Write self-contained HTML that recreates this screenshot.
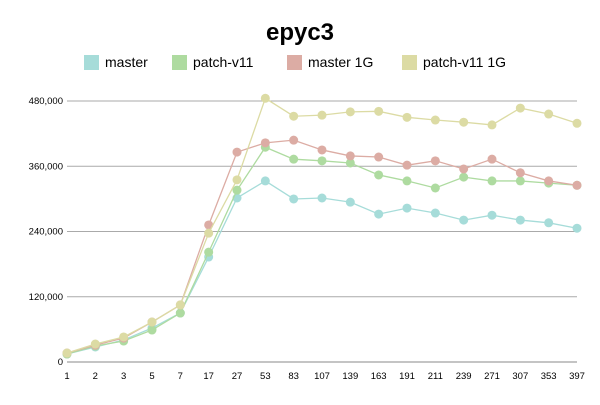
<!DOCTYPE html>
<html><head><meta charset="utf-8"><style>
body{margin:0;background:#fff;font-family:"Liberation Sans",sans-serif}
svg text{font-family:"Liberation Sans",sans-serif}
</style></head><body>
<svg id="chart" width="600" height="400" xmlns="http://www.w3.org/2000/svg">
<text x="300" y="40" text-anchor="middle" font-size="24" font-weight="bold">epyc3</text>
<g id="legend"></g>
<g id="grid"></g>
<g id="series"></g>
</svg>
<script>
const categories=["1","2","3","5","7","17","27","53","83","107","139","163","191","211","239","271","307","353","397"];
const seriesNames=["master","patch-v11","master 1G","patch-v11 1G"];
const seriesColors=["#a6dcd9","#aedba0","#dcaca4","#dcdba4"];
const master=[14700,27600,40500,62500,90100,193000,301600,333000,299800,301600,294000,272000,283000,274000,261000,270000,261000,256000,246000];
const patchV11=[14700,29400,38600,58800,90100,202000,316000,395000,373000,370000,366000,344000,333000,320000,340000,333000,333000,329000,325000];
const master1G=[16500,31000,44000,73500,105000,252000,386000,403000,408000,390000,379000,377000,362000,370000,355000,373000,348000,333000,325000];
const patchV111G=[16500,33000,46000,73500,105000,237000,335000,485000,452000,454000,460000,461000,450000,445000,441000,436000,467000,456000,439000];
const yTicks=[0,120000,240000,360000,480000];
const yTickLabels=["0","120,000","240,000","360,000","480,000"];
const allSeries=[master,patchV11,master1G,patchV111G];
const NS="http://www.w3.org/2000/svg";
const x0=67,x1=577,yBase=362,yTop=101,yMax=480000;
function xs(i){return x0+i*(x1-x0)/(categories.length-1);}
function ys(v){return yBase-v/yMax*(yBase-yTop);}
function mk(t,a,p){const e=document.createElementNS(NS,t);for(const k in a)e.setAttribute(k,a[k]);p.appendChild(e);return e;}
const grid=document.getElementById('grid');
yTicks.forEach((v,i)=>{
  const l=mk('line',{x1:x0,x2:x1,y1:ys(v),y2:ys(v),stroke:i===0?'#888':'#aaa','stroke-width':1},grid);
  
  
  const t=mk('text',{x:x0-4,y:ys(v)+3,'text-anchor':'end','font-size':9.5},grid);
  t.textContent=yTickLabels[i];
  
  
});
categories.forEach((c,i)=>{
  const t=mk('text',{x:xs(i),y:379,'text-anchor':'middle','font-size':9.5},grid);
  t.textContent=c;
  
  
});
const sg=document.getElementById('series');
allSeries.forEach((s,si)=>{
  const g=mk('g',{},sg);
  
  
  const pl=mk('polyline',{points:s.map((v,i)=>xs(i)+','+ys(v)).join(' '),fill:'none',stroke:seriesColors[si],'stroke-width':1.3},g);
  
  
  s.forEach((v,i)=>{
    const c=mk('circle',{cx:xs(i),cy:ys(v),r:4.5,fill:seriesColors[si]},g);
    
    
  });
});
const lg=document.getElementById('legend');
const lx=[84,172,287,402];
seriesNames.forEach((n,i)=>{
  const g=mk('g',{},lg);
  
  
  mk('rect',{x:lx[i],y:55,width:15,height:15,fill:seriesColors[i]},g);
  const t=mk('text',{x:lx[i]+21,y:67,'font-size':14},g);
  t.textContent=n;
});
</script>
</body></html>
